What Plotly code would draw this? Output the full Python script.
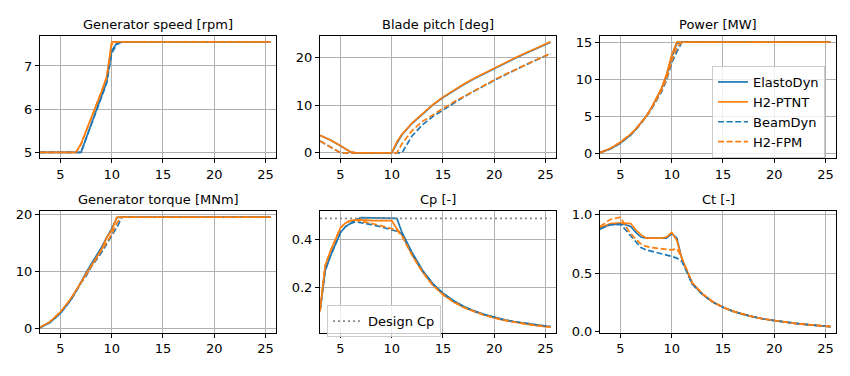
import plotly.graph_objects as go

# ---------------- data ----------------
wind = [3, 3.5, 4, 5, 5.5, 6, 6.5, 7, 7.5, 8, 9, 9.5, 10, 10.5, 11, 12, 13, 14, 15,
        16, 17, 18, 19, 20, 21, 22, 23, 24, 25, 25.5]

models = ["ElastoDyn", "H2-PTNT", "BeamDyn", "H2-FPM"]

gen_speed_ed = [5.0, 5.0, 5.0, 5.0, 5.0, 5.0, 5.0, 5.0, 5.33, 5.66, 6.3, 6.63, 7.35, 7.53, 7.56,
                7.56, 7.56, 7.56, 7.56, 7.56, 7.56, 7.56, 7.56, 7.56, 7.56, 7.56, 7.56, 7.56, 7.56, 7.56]
gen_speed_ptnt = [5.0, 5.0, 5.0, 5.0, 5.0, 5.0, 5.0, 5.2, 5.5, 5.8, 6.4, 6.75, 7.56, 7.56, 7.56,
                  7.56, 7.56, 7.56, 7.56, 7.56, 7.56, 7.56, 7.56, 7.56, 7.56, 7.56, 7.56, 7.56, 7.56, 7.56]
gen_speed_bd = [5.0, 5.0, 5.0, 5.0, 5.0, 5.0, 5.0, 5.0, 5.32, 5.64, 6.28, 6.6, 7.3, 7.5, 7.56,
                7.56, 7.56, 7.56, 7.56, 7.56, 7.56, 7.56, 7.56, 7.56, 7.56, 7.56, 7.56, 7.56, 7.56, 7.56]
gen_speed_fpm = [5.0, 5.0, 5.0, 5.0, 5.0, 5.0, 5.0, 5.18, 5.48, 5.78, 6.38, 6.72, 7.5, 7.56, 7.56,
                 7.56, 7.56, 7.56, 7.56, 7.56, 7.56, 7.56, 7.56, 7.56, 7.56, 7.56, 7.56, 7.56, 7.56, 7.56]

pitch_ed = [3.7, 3.25, 2.7, 1.5, 0.8, 0.15, 0.0, 0.0, 0.0, 0.0, 0.0, 0.0, 0.0, 2.0, 3.8,
            6.2, 8.2, 10.0, 11.6, 13.0, 14.3, 15.5, 16.6, 17.7, 18.8, 19.8, 20.8, 21.8, 22.7, 23.2]
pitch_ptnt = [3.7, 3.25, 2.7, 1.5, 0.8, 0.2, 0.0, 0.0, 0.0, 0.0, 0.0, 0.0, 0.0, 2.3, 3.9,
              6.3, 8.3, 10.1, 11.7, 13.1, 14.4, 15.6, 16.7, 17.8, 18.9, 19.9, 20.9, 21.9, 22.8, 23.3]
pitch_bd = [2.5, 1.85, 1.2, 0.0, 0.0, 0.0, 0.0, 0.0, 0.0, 0.0, 0.0, 0.0, 0.0, 0.0, 0.0,
            3.6, 5.9, 7.6, 9.0, 10.4, 11.7, 12.9, 14.1, 15.2, 16.3, 17.4, 18.4, 19.4, 20.4, 20.8]
pitch_fpm = [2.5, 1.85, 1.2, 0.0, 0.0, 0.0, 0.0, 0.0, 0.0, 0.0, 0.0, 0.0, 0.0, 0.0, 1.9,
             4.7, 6.6, 8.0, 9.3, 10.6, 11.8, 13.0, 14.1, 15.3, 16.4, 17.4, 18.5, 19.5, 20.5, 20.9]

power_ed = [0.08, 0.3, 0.6, 1.4, 1.9, 2.5, 3.25, 4.1, 5.0, 6.1, 8.7, 10.5, 13.0, 14.8, 15.0,
            15.0, 15.0, 15.0, 15.0, 15.0, 15.0, 15.0, 15.0, 15.0, 15.0, 15.0, 15.0, 15.0, 15.0, 15.0]
power_ptnt = [0.1, 0.35, 0.65, 1.5, 2.0, 2.6, 3.3, 4.1, 5.0, 6.1, 8.8, 10.7, 13.3, 15.0, 15.0,
              15.0, 15.0, 15.0, 15.0, 15.0, 15.0, 15.0, 15.0, 15.0, 15.0, 15.0, 15.0, 15.0, 15.0, 15.0]
power_bd = [0.08, 0.3, 0.6, 1.4, 1.9, 2.5, 3.2, 4.0, 4.9, 5.9, 8.3, 9.9, 12.2, 13.7, 15.0,
            15.0, 15.0, 15.0, 15.0, 15.0, 15.0, 15.0, 15.0, 15.0, 15.0, 15.0, 15.0, 15.0, 15.0, 15.0]
power_fpm = [0.1, 0.35, 0.65, 1.5, 2.0, 2.6, 3.3, 4.05, 4.95, 6.0, 8.5, 10.1, 12.5, 14.3, 15.0,
             15.0, 15.0, 15.0, 15.0, 15.0, 15.0, 15.0, 15.0, 15.0, 15.0, 15.0, 15.0, 15.0, 15.0, 15.0]

torque_ed = [0.15, 0.6, 1.1, 2.7, 3.8, 5.0, 6.5, 8.2, 9.8, 11.3, 14.2, 15.9, 17.5, 19.4, 19.5,
             19.5, 19.5, 19.5, 19.5, 19.5, 19.5, 19.5, 19.5, 19.5, 19.5, 19.5, 19.5, 19.5, 19.5, 19.5]
torque_ptnt = [0.2, 0.65, 1.2, 2.9, 4.0, 5.2, 6.6, 8.1, 9.6, 11.0, 13.8, 15.9, 17.2, 19.5, 19.5,
               19.5, 19.5, 19.5, 19.5, 19.5, 19.5, 19.5, 19.5, 19.5, 19.5, 19.5, 19.5, 19.5, 19.5, 19.5]
torque_bd = [0.15, 0.6, 1.1, 2.7, 3.8, 5.0, 6.4, 8.0, 9.2, 10.8, 13.3, 14.9, 16.3, 17.7, 19.5,
             19.5, 19.5, 19.5, 19.5, 19.5, 19.5, 19.5, 19.5, 19.5, 19.5, 19.5, 19.5, 19.5, 19.5, 19.5]
torque_fpm = [0.2, 0.65, 1.2, 2.9, 4.0, 5.2, 6.6, 8.0, 9.3, 10.8, 13.5, 15.0, 16.5, 18.5, 19.5,
              19.5, 19.5, 19.5, 19.5, 19.5, 19.5, 19.5, 19.5, 19.5, 19.5, 19.5, 19.5, 19.5, 19.5, 19.5]

cp_ed = [0.10, 0.27, 0.33, 0.43, 0.455, 0.47, 0.483, 0.492, 0.492, 0.492, 0.492, 0.492, 0.491, 0.489, 0.43,
         0.345, 0.272, 0.216, 0.176, 0.145, 0.121, 0.102, 0.087, 0.074, 0.064, 0.056, 0.049, 0.043, 0.038, 0.036]
cp_ptnt = [0.10, 0.29, 0.35, 0.45, 0.47, 0.48, 0.484, 0.484, 0.482, 0.48, 0.479, 0.479, 0.48, 0.445, 0.42,
           0.335, 0.265, 0.21, 0.17, 0.14, 0.117, 0.099, 0.084, 0.072, 0.062, 0.054, 0.047, 0.041, 0.036, 0.034]
cp_bd = [0.10, 0.27, 0.33, 0.43, 0.455, 0.468, 0.475, 0.472, 0.468, 0.463, 0.453, 0.447, 0.44, 0.435, 0.425,
         0.34, 0.27, 0.215, 0.175, 0.144, 0.12, 0.101, 0.086, 0.074, 0.064, 0.056, 0.049, 0.043, 0.038, 0.036]
cp_fpm = [0.10, 0.29, 0.35, 0.45, 0.47, 0.48, 0.482, 0.478, 0.473, 0.468, 0.458, 0.452, 0.445, 0.44, 0.415,
          0.333, 0.264, 0.209, 0.17, 0.14, 0.117, 0.099, 0.084, 0.072, 0.062, 0.054, 0.047, 0.041, 0.036, 0.034]
design_cp = 0.489

ct_ed = [0.877, 0.90, 0.915, 0.92, 0.915, 0.90, 0.85, 0.81, 0.80, 0.80, 0.80, 0.80, 0.84, 0.80, 0.62,
         0.41, 0.32, 0.255, 0.21, 0.175, 0.148, 0.127, 0.11, 0.096, 0.084, 0.073, 0.064, 0.056, 0.048, 0.045]
ct_ptnt = [0.89, 0.91, 0.925, 0.93, 0.93, 0.925, 0.87, 0.83, 0.80, 0.80, 0.80, 0.81, 0.85, 0.78, 0.62,
           0.42, 0.325, 0.258, 0.21, 0.175, 0.148, 0.127, 0.11, 0.096, 0.084, 0.073, 0.064, 0.056, 0.048, 0.045]
ct_bd = [0.88, 0.90, 0.915, 0.92, 0.87, 0.82, 0.77, 0.72, 0.70, 0.69, 0.665, 0.655, 0.645, 0.63, 0.60,
         0.41, 0.32, 0.255, 0.21, 0.175, 0.148, 0.127, 0.11, 0.096, 0.084, 0.073, 0.064, 0.056, 0.048, 0.045]
ct_fpm = [0.90, 0.93, 0.96, 0.98, 0.90, 0.84, 0.79, 0.75, 0.73, 0.72, 0.71, 0.70, 0.70, 0.71, 0.63,
          0.42, 0.325, 0.258, 0.21, 0.175, 0.148, 0.127, 0.11, 0.096, 0.084, 0.073, 0.064, 0.056, 0.048, 0.045]

titles = ["Generator speed [rpm]", "Blade pitch [deg]", "Power [MW]",
          "Generator torque [MNm]", "Cp [-]", "Ct [-]"]
x_ticks = [5, 10, 15, 20, 25]
y_ticks = [[5, 6, 7], [0, 10, 20], [0, 5, 10, 15], [0, 10, 20], [0.2, 0.4], [0.0, 0.5, 1.0]]

# ---------------- styling ----------------
W, H = 850, 376
FONT = "DejaVu Sans"
BLUE, ORANGE = "#1f77b4", "#ff7f0e"
colors = [BLUE, ORANGE, BLUE, ORANGE]
dashes = ["solid", "solid", "6px,2.6px", "6px,2.6px"]
LW = 1.7
x_range = [3, 26.03]
y_ranges = [[4.872, 7.688], [-1.08, 24.47], [-0.62, 15.78], [-0.7, 20.5], [0.011, 0.518], [-0.005, 1.028]]
col_px = [(40, 276), (320, 556), (600, 836)]
row_px = [(32.3, 158), (213.3, 338.3)]

panels = [
    [gen_speed_ed, gen_speed_ptnt, gen_speed_bd, gen_speed_fpm],
    [pitch_ed, pitch_ptnt, pitch_bd, pitch_fpm],
    [power_ed, power_ptnt, power_bd, power_fpm],
    [torque_ed, torque_ptnt, torque_bd, torque_fpm],
    [cp_ed, cp_ptnt, cp_bd, cp_fpm],
    [ct_ed, ct_ptnt, ct_bd, ct_fpm],
]

fig = go.Figure()
layout = dict(
    width=W, height=H,
    margin=dict(l=0, r=0, t=0, b=0),
    paper_bgcolor="white", plot_bgcolor="white",
    font=dict(family=FONT, size=13, color="black"),
    annotations=[],
)

for i, series in enumerate(panels):
    n = i + 1
    r, c = divmod(i, 3)
    xs = "" if n == 1 else str(n)
    for j, ys in enumerate(series):
        fig.add_trace(go.Scatter(
            x=wind, y=ys, mode="lines", name=models[j],
            line=dict(color=colors[j], width=LW, dash=dashes[j]),
            xaxis="x" + xs, yaxis="y" + xs,
            showlegend=(n == 3), legend="legend",
        ))
    x0, x1 = col_px[c]
    t0, t1 = row_px[r]
    axis_common = dict(
        showline=True, linecolor="black", linewidth=1, mirror=True,
        showgrid=True, gridcolor="#b0b0b0", gridwidth=1,
        ticks="outside", ticklen=4, tickwidth=1, tickcolor="black",
        zeroline=False, tickfont=dict(family=FONT, size=13, color="black"),
    )
    layout["xaxis" + xs] = dict(axis_common, domain=[x0 / W, x1 / W], range=x_range,
                                tickvals=x_ticks, anchor="y" + xs)
    yax = dict(axis_common, domain=[1 - t1 / H, 1 - t0 / H], range=y_ranges[i],
               tickvals=y_ticks[i], anchor="x" + xs)
    if n == 6:
        yax["tickformat"] = ".1f"
    layout["yaxis" + xs] = yax
    layout["annotations"].append(dict(
        text=titles[i], xref="paper", yref="paper",
        x=(x0 + x1) / 2 / W, y=1 - (t0 - 12.5) / H,
        xanchor="center", yanchor="middle", showarrow=False,
        font=dict(family=FONT, size=13, color="black"),
    ))

# design Cp reference line
fig.add_trace(go.Scatter(
    x=[wind[0], wind[-1]], y=[design_cp, design_cp], mode="lines", name="Design Cp",
    line=dict(color="#8c8c8c", width=LW, dash="2px,3px"),
    xaxis="x5", yaxis="y5", showlegend=True, legend="legend2",
))

legend_style = dict(
    bgcolor="rgba(255,255,255,0.8)", bordercolor="#cccccc", borderwidth=1,
    font=dict(family=FONT, size=13, color="black"),
    xanchor="left", yanchor="top", itemwidth=30, tracegroupgap=0,
)
layout["legend"] = dict(legend_style, x=712 / W, y=1 - 63 / H)
layout["legend2"] = dict(legend_style, x=327 / W, y=1 - 310 / H)

fig.update_layout(**layout)
fig.write_html("out.html",
               config={"displayModeBar": False},
               post_script="document.body.style.margin='0';document.body.style.padding='0';")
